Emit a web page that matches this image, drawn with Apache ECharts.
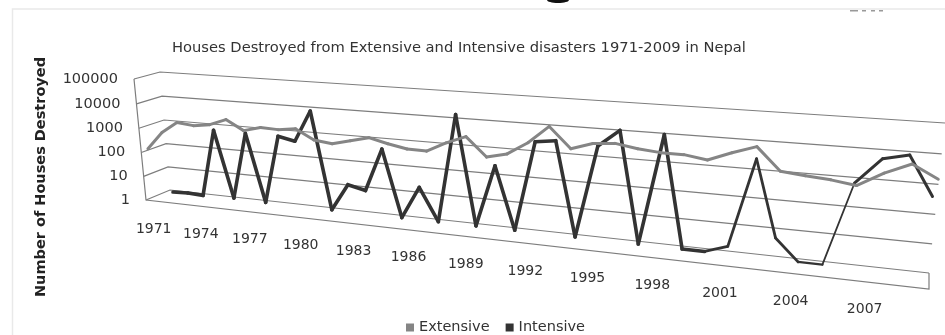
<!DOCTYPE html>
<html><head><meta charset="utf-8">
<style>html,body{margin:0;padding:0;background:#fff}#c{width:945px;height:335px;filter:blur(0.45px)}</style>
<script src="https://cdn.jsdelivr.net/npm/echarts@6/dist/echarts.min.js"></script>
</head><body><div id="c"></div>
<script>
const years = ['1971','1972','1973','1974','1975','1976','1977','1978','1979','1980','1981','1982','1983','1984','1985','1986','1987','1988','1989','1990','1991','1992','1993','1994','1995','1996','1997','1998','1999','2000','2001','2002','2003','2004','2005','2006','2007','2008','2009'];
const extensive = [115,620,1830,1560,1960,3570,1480,2240,2130,2650,1110,910,1390,2090,1410,1030,1000,2380,4700,950,1450,4330,19500,3540,6340,7470,5620,4780,4750,3620,7570,14300,2440,2030,1750,1340,4150,9800,3700];
const intensive = [1,1.07,1,640,1.08,630,1,620,450,8200,1,12.5,8.6,445,1,19,1,16100,1,250,1,2650,3350,1,2880,12000,1,11300,1,1,1.9,2900,5.8,1,1,815,6400,9900,500];
const yTicks = [1,10,100,1000,10000,100000];
const yearLabels = years.filter((y,i)=>i%3===0);

// perspective planes: [bottom-left, top-left, top-right, bottom-right]
const backWall  = [[170,190],[160,72],[945,123],[929,273]];
const frontWall = [[146,200],[134,79],[945,139],[929,289]];
const planeE    = [[153,197.5],[140.5,77],[943,135],[927,285]];
const planeI    = [[173,192],[163,73.4],[940,126],[924,276]];
const depthWarp = 0.038;

function homography(q){ // unit square (u right, v up) -> quad
  const [p00,p01,p11,p10]=q;
  const dx1=p10[0]-p11[0],dx2=p01[0]-p11[0],sx=p00[0]-p10[0]+p11[0]-p01[0];
  const dy1=p10[1]-p11[1],dy2=p01[1]-p11[1],sy=p00[1]-p10[1]+p11[1]-p01[1];
  const det=dx1*dy2-dx2*dy1;
  const g=(sx*dy2-dx2*sy)/det,h=(dx1*sy-sx*dy1)/det;
  const a=p10[0]-p00[0]+g*p10[0],b=p01[0]-p00[0]+h*p01[0],c=p00[0];
  const d=p10[1]-p00[1]+g*p10[1],e=p01[1]-p00[1]+h*p01[1],f=p00[1];
  return (u0,v)=>{const u=u0-depthWarp*u0*(1-u0);const w=g*u+h*v+1;return [(a*u+b*v+c)/w,(d*u+e*v+f)/w];};
}
const Hb=homography(backWall),Hf=homography(frontWall),HE=homography(planeE),HI=homography(planeI);
function norm(params,api,pt){
  const r=params.coordSys;
  const p=api.coord(pt);
  return [(p[0]-r.x)/r.width,1-(p[1]-r.y)/r.height];
}
const gridCol='#7d7d7d';
function seriesRender(H,color,widthOf){
  return function(params,api){
    const i=params.dataIndex;
    if(i===0) return;
    const a=norm(params,api,[i-1,api.value(1,i-1)]);
    const b=norm(params,api,[i,api.value(1)]);
    return {type:'line',shape:{x1:H(a[0],a[1])[0],y1:H(a[0],a[1])[1],x2:H(b[0],b[1])[0],y2:H(b[0],b[1])[1]},
      style:{stroke:color,lineWidth:widthOf(i),lineCap:'round'}};
  };
}
const chart=echarts.init(document.getElementById('c'),null,{renderer:'canvas'});
chart.setOption({
  animation:false,
  backgroundColor:'#fff',
  title:{text:'Houses Destroyed from Extensive and Intensive disasters 1971-2009 in Nepal',left:172,top:41,padding:0,
    textStyle:{fontFamily:'DejaVu Sans',fontSize:14.7,fontWeight:'normal',color:'#333'}},
  legend:{left:406,top:320,padding:0,itemWidth:8,itemHeight:8,itemGap:16,icon:'rect',data:['Extensive','Intensive'],
    textStyle:{fontFamily:'DejaVu Sans',fontSize:14.5,color:'#333'}},
  grid:{left:100,right:100,top:60,bottom:60},
  xAxis:{type:'category',data:years,boundaryGap:false,show:false},
  yAxis:{type:'log',logBase:10,min:1,max:100000,show:false},
  graphic:[
    {type:'rect',shape:{x:12.5,y:9,width:960,height:360},style:{fill:'none',stroke:'#e9e9e9',lineWidth:1.5}},
    {type:'ellipse',shape:{cx:558,cy:0,rx:11,ry:3},style:{fill:'#111'}},
    {type:'rect',shape:{x:850,y:10,width:8,height:1.5},style:{fill:'#999'}},
    {type:'rect',shape:{x:862,y:10,width:4,height:1.5},style:{fill:'#999'}},
    {type:'rect',shape:{x:871,y:10,width:4,height:1.5},style:{fill:'#999'}},
    {type:'rect',shape:{x:879,y:10,width:4,height:1.5},style:{fill:'#999'}},
    {type:'text',x:41,y:177,rotation:Math.PI/2,style:{text:'Number of Houses Destroyed',x:0,y:0,align:'center',verticalAlign:'middle',
      font:'bold 14.5px "DejaVu Sans"',fill:'#222'},originX:0,originY:0}
  ],
  series:[
    {type:'custom',name:'grid',silent:true,z:1,encode:{x:0,y:1},
     data:yTicks.map(t=>[0,t]),
     renderItem(params,api){
       const v=norm(params,api,[0,api.value(1)])[1];
       const a=Hf(0,v),b=Hb(0,v),c=Hb(1,v);
       return {type:'polyline',shape:{points:[a,b,c]},style:{fill:'none',stroke:gridCol,lineWidth:1.2}};
     }},
    {type:'custom',name:'frame',silent:true,z:1,data:[[0,1]],
     renderItem(params,api){
       const top=norm(params,api,[0,100000])[1], bot=norm(params,api,[0,1])[1];
       return {type:'polyline',shape:{points:[Hf(0,top),Hf(0,bot),Hf(1,bot),Hb(1,bot)]},style:{fill:'none',stroke:gridCol,lineWidth:1.2}};
     }},
    {type:'custom',name:'yLabels',silent:true,z:3,data:yTicks.map(t=>[0,t]),
     renderItem(params,api){
       const v=norm(params,api,[0,api.value(1)])[1];
       const p=Hf(0,v);
       return {type:'text',style:{x:p[0]-16,y:p[1],text:String(api.value(1)),align:'right',verticalAlign:'middle',font:'14.5px "DejaVu Sans"',fill:'#333'}};
     }},
    {type:'custom',name:'xLabels',silent:true,z:3,data:yearLabels.map(y=>[y,1]),
     renderItem(params,api){
       const n=norm(params,api,[api.value(0),1]);
       const u=(params.dataIndex*3+0.5)/39;
       const p=Hf(u,n[1]);
       return {type:'text',style:{x:p[0],y:p[1]+28,text:yearLabels[params.dataIndex],align:'center',verticalAlign:'middle',font:'14px "DejaVu Sans"',fill:'#333'}};
     }},
    {type:'custom',name:'Intensive',z:4,itemStyle:{color:'#333333'},data:intensive.map((v,i)=>[i,v]),encode:{x:0,y:1},
     renderItem:seriesRender(HI,'#333333',i=>i<=29?3.6:(i<=33?2.8:(i===34?2.4:(i===35?1.8:3))))},
    {type:'custom',name:'Extensive',z:5,itemStyle:{color:'#858585'},data:extensive.map((v,i)=>[i,v]),encode:{x:0,y:1},
     renderItem:seriesRender(HE,'#858585',()=>3)}
  ]
});
</script></body></html>
